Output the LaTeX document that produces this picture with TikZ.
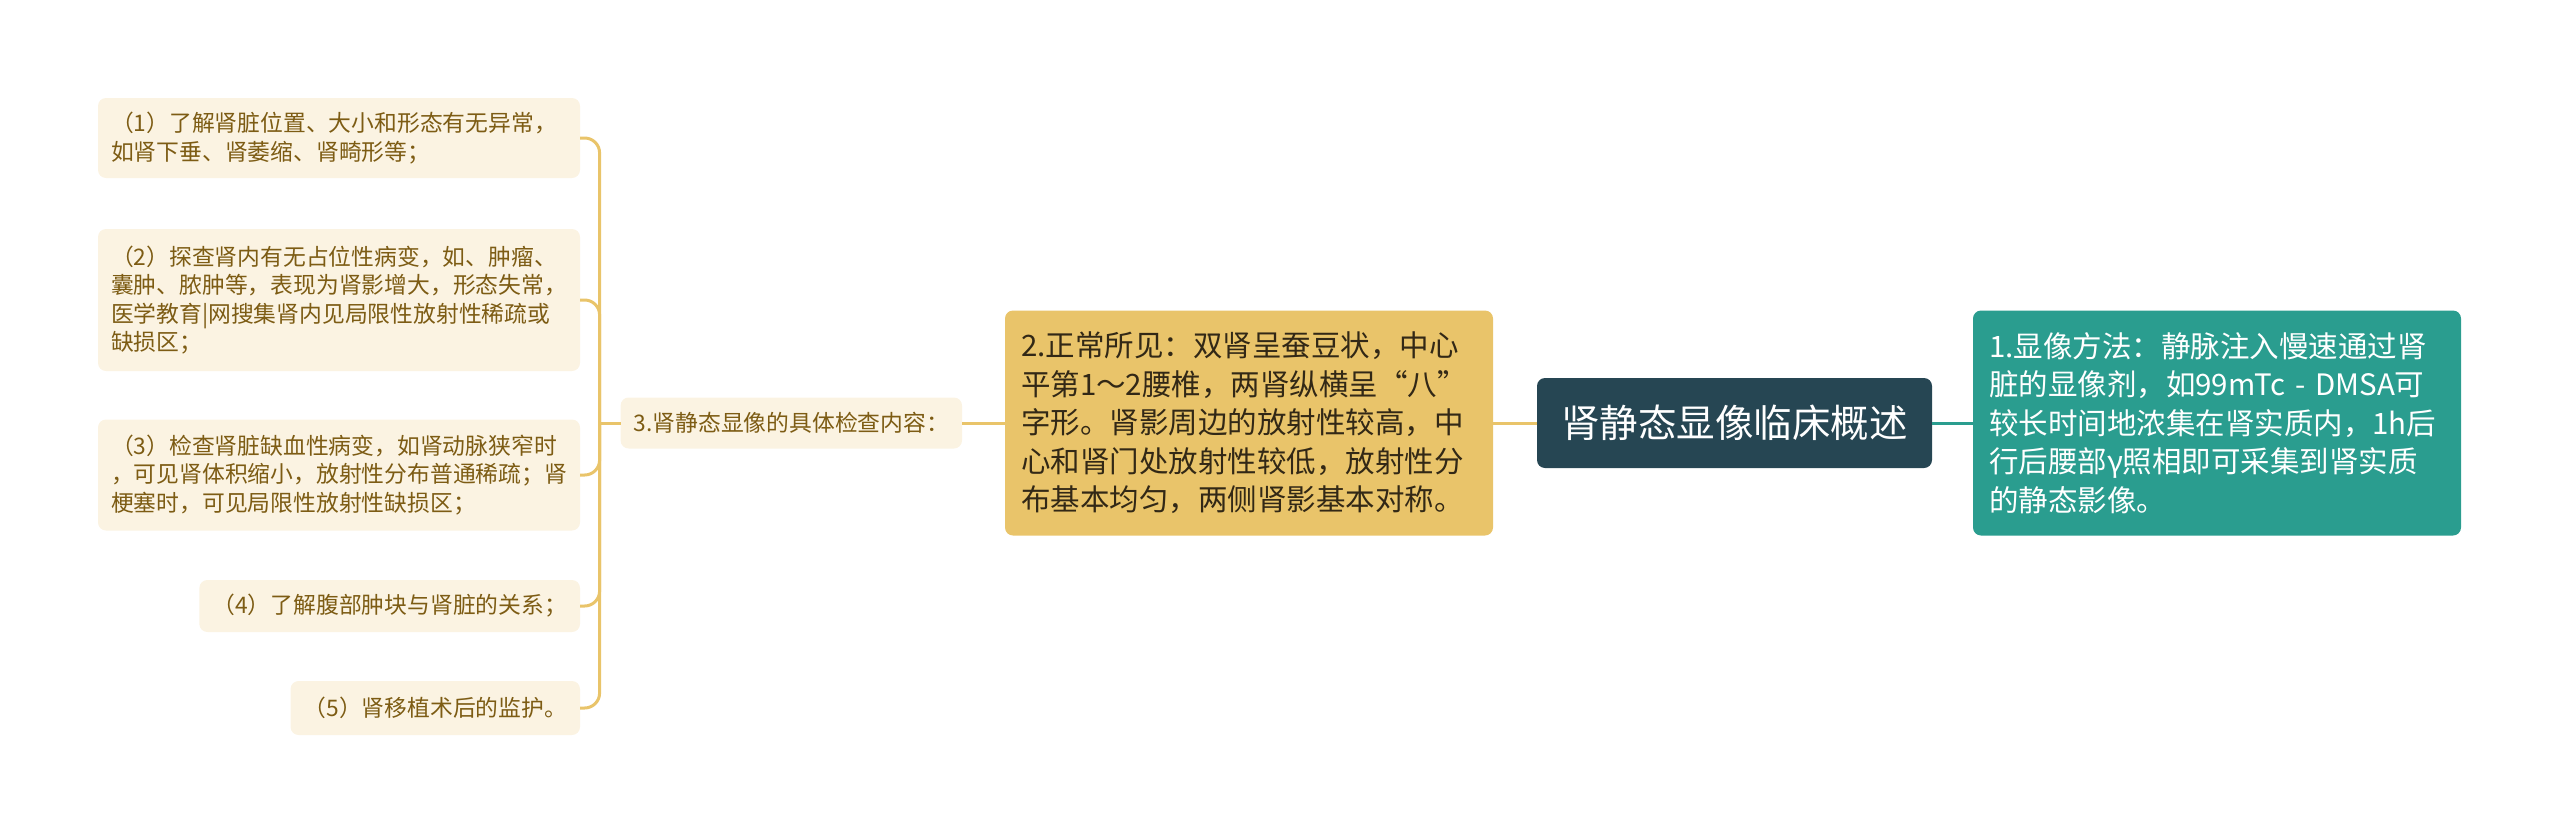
\documentclass[tikz,border=0pt]{standalone}
\usepackage{fontspec}
\newfontfamily\cjk{Noto Sans CJK SC}
\usetikzlibrary{positioning}
\definecolor{rootfill}{RGB}{38,70,83}
\definecolor{tealfill}{RGB}{42,157,143}
\definecolor{goldfill}{RGB}{233,196,106}
\definecolor{creamfill}{RGB}{251,243,226}
\definecolor{leaftext}{RGB}{125,92,20}
\definecolor{goldtext}{RGB}{50,40,22}
\begin{document}
\begin{tikzpicture}[x=1pt, y=-1pt, line width=3pt, every node/.style={outer sep=0pt},
        rootbox/.style = {fill=rootfill, text=white, rounded corners=8pt, minimum width=395pt,
            minimum height=90pt, font=\cjk\fontsize{38.5}{46}\selectfont},
        bigbox/.style = {rounded corners=8pt, text width=456pt, inner xsep=16pt, minimum height=225pt,
            align=left, font=\cjk\fontsize{29.5}{38.5}\selectfont},
        leafbox/.style = {fill=creamfill, text=leaftext, rounded corners=8pt, inner xsep=13pt,
            align=left, font=\cjk\fontsize{22.8}{28.5}\selectfont},
        goldline/.style = {draw=goldfill},
        tealline/.style = {draw=tealfill}]
            \useasboundingbox (0,0) rectangle (2560,833);

            \node[rootbox] (root) at (1734.5,423) {肾静态显像临床概述};
            \node[bigbox, fill=goldfill, text=goldtext, left=44pt of root] (normal)
                {2.正常所见：双肾呈蚕豆状，中心\\平第1～2腰椎，两肾纵横呈“八”\\字形。肾影周边的放射性较高，中\\心和肾门处放射性较低，放射性分\\布基本均匀，两侧肾影基本对称。};
            \node[bigbox, fill=tealfill, text=white, right=41pt of root] (method)
                {1.显像方法：静脉注入慢速通过肾\\脏的显像剂，如99mTc - DMSA可\\较长时间地浓集在肾实质内，1h后\\行后腰部γ照相即可采集到肾实质\\的静态影像。};
            \node[leafbox, minimum width=340pt, minimum height=51pt, left=43pt of normal] (content)
                {3.肾静态显像的具体检查内容：};

            \node[leafbox, text width=456pt, minimum height=80pt, anchor=east] (p1) at (580,138)
                {（1）了解肾脏位置、大小和形态有无异常，\\如肾下垂、肾萎缩、肾畸形等；};
            \node[leafbox, text width=456pt, minimum height=142pt, anchor=east] (p2) at (580,300)
                {（2）探查肾内有无占位性病变，如、肿瘤、\\囊肿、脓肿等，表现为肾影增大，形态失常，\\医学教育|网搜集肾内见局限性放射性稀疏或\\缺损区；};
            \node[leafbox, text width=456pt, minimum height=111pt, anchor=east] (p3) at (580,475)
                {（3）检查肾脏缺血性病变，如肾动脉狭窄时\\，可见肾体积缩小，放射性分布普通稀疏；肾\\梗塞时，可见局限性放射性缺损区；};
            \node[leafbox, minimum height=52pt, anchor=east] (p4) at (580,606)
                {（4）了解腹部肿块与肾脏的关系；};
            \node[leafbox, minimum height=54pt, anchor=east] (p5) at (580,708)
                {（5）肾移植术后的监护。};

            \draw[goldline] (root.west) -- (normal.east);
            \draw[tealline] (root.east) -- (method.west);
            \draw[goldline] (normal.west) -- (content.east);
            \draw[goldline] (content.west) -- ++(-21,0) coordinate (fork);
            \foreach \p in {p1,p2,p3,p4,p5}
                \draw[goldline, rounded corners=15pt] (fork) |- (\p.east);

        \end{tikzpicture}
\end{document}
